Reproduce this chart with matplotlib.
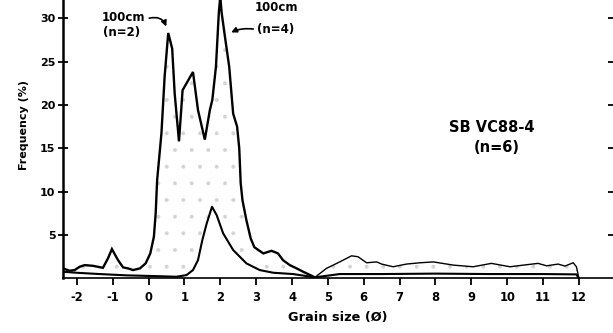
import numpy as np
import matplotlib
matplotlib.use("Agg")
import matplotlib.pyplot as plt

plt.rcParams['font.family'] = ['DejaVu Sans']
plt.rcParams['font.weight'] = 'bold'
plt.rcParams['hatch.linewidth'] = 0.4

# Coarse mode: main multi-peak curve (0-5 phi)
phi_a = [-2.38, -2.20, -2.06, -1.92, -1.78, -1.55, -1.27, -1.13, -1.02, -0.85,
         -0.71, -0.57, -0.43, -0.24, -0.08, 0.05, 0.15, 0.20, 0.24, 0.36,
         0.45, 0.55, 0.66, 0.73, 0.85, 0.95, 1.24, 1.38, 1.57, 1.71,
         1.78, 1.88, 1.96, 2.00, 2.04, 2.13, 2.25, 2.36, 2.47, 2.53,
         2.57, 2.62, 2.73, 2.85, 2.95, 3.20, 3.43, 3.61, 3.75, 3.94,
         4.13, 4.31, 4.64]
freq_a = [1.15, 0.88, 0.96, 1.34, 1.53, 1.45, 1.22, 2.31, 3.38, 2.11,
          1.27, 1.15, 0.96, 1.15, 1.73, 2.88, 4.8, 7.5, 11.3, 16.7,
          23.3, 28.3, 26.5, 21.3, 15.8, 21.7, 23.8, 19.4, 16.0, 19.4,
          20.6, 24.4, 30.6, 32.5, 30.6, 27.9, 24.4, 19.0, 17.5, 15.0,
          11.0, 9.0, 6.7, 4.6, 3.6, 2.88, 3.18, 2.88, 2.1, 1.53,
          1.15, 0.77, 0.12]

# Fine tail (silt / clay)
phi_t = [4.64, 4.96, 5.33, 5.66, 5.84, 6.08, 6.36, 6.50, 6.82, 7.19,
         7.57, 7.94, 8.50, 9.05, 9.56, 10.08, 10.45, 10.86, 11.10, 11.42,
         11.61, 11.84, 11.93, 12.0]
freq_t = [0.12, 1.15, 1.9, 2.6, 2.5, 1.8, 1.9, 1.65, 1.34, 1.65,
          1.8, 1.9, 1.53, 1.34, 1.73, 1.34, 1.53, 1.73, 1.45, 1.65,
          1.42, 1.8, 1.34, 0.0]

# Second sample: single peak near 1.8 phi
phi_b = [-2.38, -2.01, -1.36, -0.61, 0.13, 0.78, 1.06, 1.24, 1.38, 1.50,
         1.62, 1.77, 1.90, 2.08, 2.36, 2.73, 3.10, 3.48, 4.03, 4.64,
         5.33, 6.5, 8.0, 9.5, 11.0, 11.93, 12.0]
freq_b = [0.77, 0.65, 0.5, 0.35, 0.27, 0.19, 0.38, 0.96, 2.11, 4.4,
          6.3, 8.26, 7.3, 5.2, 3.27, 1.73, 0.96, 0.65, 0.5, 0.12,
          0.5, 0.5, 0.55, 0.5, 0.5, 0.46, 0.0]

x_ticks = list(range(-2, 13))
x_labels = [str(v) for v in x_ticks]
y_ticks = [5, 10, 15, 20, 25, 30]

fig = plt.figure(figsize=(6.13, 3.33), dpi=100)
ax = fig.add_axes([0.103, 0.164, 0.897, 0.836])

# stippled envelope between the two distributions
grid = np.linspace(-2.38, 12.0, 600)
upper = np.interp(grid, phi_a[:-1] + phi_t, freq_a[:-1] + freq_t)
lower = np.interp(grid, phi_b, freq_b)
ax.fill_between(grid, lower, np.maximum(upper, lower), facecolor='none',
                edgecolor='#d4d4d4', hatch='.', linewidth=0, zorder=1)

ax.plot(phi_a, freq_a, color='black', lw=1.7, zorder=3, solid_joinstyle='miter')
ax.plot(phi_t, freq_t, color='black', lw=1.0, zorder=3)
ax.plot(phi_b, freq_b, color='black', lw=1.5, zorder=3)

ax.set_xlim(-2.38, 12.95)
ax.set_ylim(0, 32.1)

ax.set_xticks(x_ticks)
ax.set_xticklabels(x_labels)
ax.set_yticks(y_ticks)
ax.tick_params(axis='x', direction='out', length=5, width=1.3, labelsize=8.3, pad=4)
ax.tick_params(axis='y', direction='inout', length=7, width=1.3, labelsize=8, pad=2,
               right=True, labelright=False)

for side in ('top', 'right'):
    ax.spines[side].set_visible(False)
ax.spines['left'].set_linewidth(1.8)
ax.spines['bottom'].set_linewidth(1.2)

ax.set_xlabel('Grain size (Ø)', fontsize=9.3, fontweight='bold', labelpad=5)
ax.set_ylabel('Frequency (%)', fontsize=8.0, fontweight='bold')
ax.yaxis.set_label_coords(-0.062, 0.55)

ax.text(9.57, 17.45, 'SB VC88-4', fontsize=10.5, ha='center', va='center')
ax.text(9.71, 15.1, '(n=6)', fontsize=10.5, ha='center', va='center')

# sample labels with pointers to the peaks
ax.text(-0.69, 30.1, '100cm', fontsize=8.5, ha='center', va='center')
ax.text(-0.75, 28.4, '(n=2)', fontsize=8.5, ha='center', va='center')
ax.annotate('', xy=(0.51, 28.9), xytext=(0.02, 30.0),
            arrowprops=dict(arrowstyle='-|>', color='black', lw=1.2,
                            mutation_scale=8,
                            connectionstyle='arc3,rad=-0.45',
                            shrinkA=0, shrinkB=1))

ax.text(3.58, 31.25, '100cm', fontsize=8.5, ha='center', va='center', clip_on=False)
ax.text(3.55, 28.7, '(n=4)', fontsize=8.5, ha='center', va='center')
ax.annotate('', xy=(2.27, 28.3), xytext=(2.92, 28.75),
            arrowprops=dict(arrowstyle='-|>', color='black', lw=1.2,
                            mutation_scale=8,
                            connectionstyle='arc3,rad=0.15',
                            shrinkA=0, shrinkB=1))

fig.savefig('out.png', dpi=100)
